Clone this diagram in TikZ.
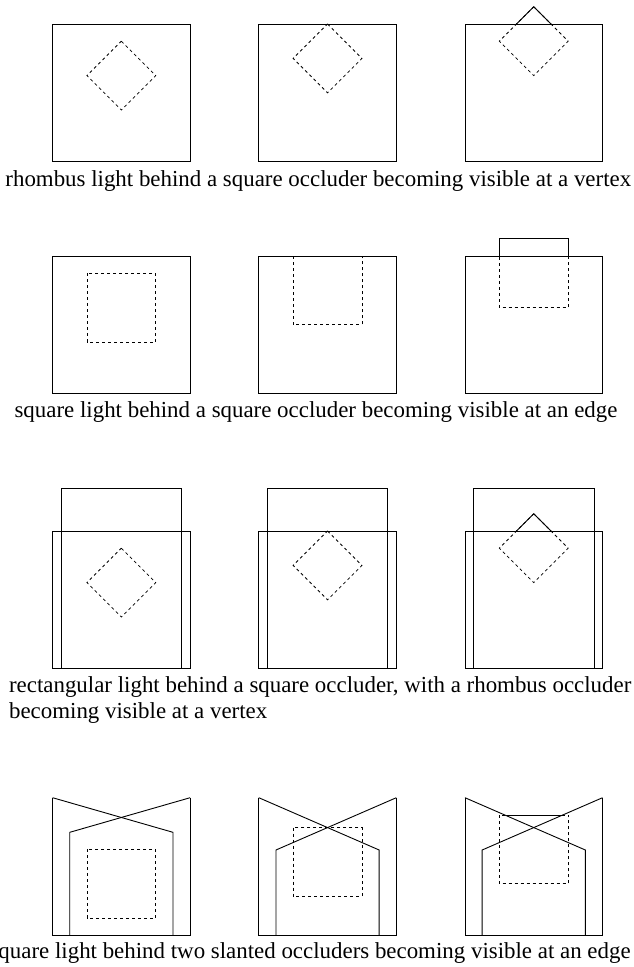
\documentclass[tikz,border=0pt]{standalone}
\usepackage{fontspec}
\setmainfont{Liberation Serif}
\begin{document}
\begin{tikzpicture}[x=1pt,y=-1pt,
  occl/.style={line width=0.9pt, black},
  hidden/.style={line width=0.8pt, black, dash pattern=on 3pt off 3pt},
  shown/.style={line width=0.9pt, black},
  captext/.style={font=\fontsize{22.9}{25.5}\selectfont, inner sep=0pt}]
\useasboundingbox (0,0) rectangle (634,967);
% ---------- Row 1 ----------
\begin{scope}[shift={(52.6,24)}]
  \draw[occl] (0,0) rectangle (137.5,137.5);
  \draw[hidden] (68.75,17.2) -- (103.15,51.6) -- (68.75,86) -- (34.35,51.6) -- cycle;
\end{scope}
\begin{scope}[shift={(258.8,24)}]
  \draw[occl] (0,0) rectangle (137.5,137.5);
  \draw[hidden] (68.75,0) -- (103.15,34.4) -- (68.75,68.8) -- (34.35,34.4) -- cycle;
\end{scope}
\begin{scope}[shift={(465,24)}]
  \draw[occl] (0,0) rectangle (137.5,137.5);
  \draw[hidden] (68.75,-17.2) -- (103.15,17.2) -- (68.75,51.6) -- (34.35,17.2) -- cycle;
  \begin{scope}
    \clip (-20,-60) rectangle (160,0);
    \draw[shown] (68.75,-17.2) -- (103.15,17.2) -- (68.75,51.6) -- (34.35,17.2) -- cycle;
  \end{scope}
\end{scope}
\node[captext, anchor=base] (cap1) at (318.3,186.7) {rhombus light behind a square occluder becoming visible at a vertex};
% ---------- Row 2 ----------
\begin{scope}[shift={(52.6,256)}]
  \draw[occl] (0,0) rectangle (137.5,137.5);
  \draw[hidden] (34.35,17.2) rectangle (103.15,86);
\end{scope}
\begin{scope}[shift={(258.8,256)}]
  \draw[occl] (0,0) rectangle (137.5,137.5);
  \draw[hidden] (34.35,0) rectangle (103.15,68.8);
\end{scope}
\begin{scope}[shift={(465,256)}]
  \draw[occl] (0,0) rectangle (137.5,137.5);
  \draw[hidden] (34.35,-17.2) rectangle (103.15,51.6);
  \begin{scope}
    \clip (-20,-60) rectangle (160,0);
    \draw[shown] (34.35,-17.2) rectangle (103.15,51.6);
  \end{scope}
\end{scope}
\node[captext, anchor=base] (cap2) at (316,417) {square light behind a square occluder becoming visible at an edge};
% ---------- Row 3 ----------
\begin{scope}[shift={(52.6,531)}]
  \draw[occl] (0,0) rectangle (137.5,137.5);
  \draw[occl] (8.45,-42.7) rectangle (129.05,137.5);
  \draw[hidden] (68.75,17.2) -- (103.15,51.6) -- (68.75,86) -- (34.35,51.6) -- cycle;
\end{scope}
\begin{scope}[shift={(258.8,531)}]
  \draw[occl] (0,0) rectangle (137.5,137.5);
  \draw[occl] (8.45,-42.7) rectangle (129.05,137.5);
  \draw[hidden] (68.75,0) -- (103.15,34.4) -- (68.75,68.8) -- (34.35,34.4) -- cycle;
\end{scope}
\begin{scope}[shift={(465,531)}]
  \draw[occl] (0,0) rectangle (137.5,137.5);
  \draw[occl] (8.45,-42.7) rectangle (129.05,137.5);
  \draw[hidden] (68.75,-17.2) -- (103.15,17.2) -- (68.75,51.6) -- (34.35,17.2) -- cycle;
  \begin{scope}
    \clip (-20,-60) rectangle (160,0);
    \draw[shown] (68.75,-17.2) -- (103.15,17.2) -- (68.75,51.6) -- (34.35,17.2) -- cycle;
  \end{scope}
\end{scope}
\node[captext, anchor=base west] (cap3a) at (8.9,692.7) {rectangular light behind a square occluder, with a rhombus occluder};
\node[captext, anchor=base west] (cap3b) at (8.9,718.3) {becoming visible at a vertex};
% ---------- Row 4 ----------
\begin{scope}[shift={(52.6,797.7)}]
  \draw[occl] (0,0) -- (0,137.5) -- (137.5,137.5) -- (137.5,0);
  \draw[occl] (0,0) -- (120.35,34.6) -- (120.35,137.5);
  \draw[occl] (137.5,0) -- (17.15,34.6) -- (17.15,137.5);
  \draw[hidden] (34.35,51.6) rectangle (103.15,120.4);
\end{scope}
\begin{scope}[shift={(258.8,797.7)}]
  \draw[occl] (0,0) -- (0,137.5) -- (137.5,137.5) -- (137.5,0);
  \draw[occl] (0,0) -- (120.35,52.3) -- (120.35,137.5);
  \draw[occl] (137.5,0) -- (17.15,52.3) -- (17.15,137.5);
  \draw[hidden] (34.35,29.9) rectangle (103.15,98.7);
\end{scope}
\begin{scope}[shift={(465,797.7)}]
  \draw[occl] (0,0) -- (0,137.5) -- (137.5,137.5) -- (137.5,0);
  \draw[occl] (0,0) -- (120.35,52.3) -- (120.35,137.5);
  \draw[occl] (137.5,0) -- (17.15,52.3) -- (17.15,137.5);
  \draw[hidden] (34.35,17.3) rectangle (103.15,86.1);
  \begin{scope}
    \clip (0,0) -- (68.75,29.88) -- (137.5,0) -- (137.5,-60) -- (0,-60) -- cycle;
    \draw[shown] (34.35,17.3) rectangle (103.15,86.1);
  \end{scope}
\end{scope}
\node[captext, anchor=base east] (cap4) at (630.8,958) {quare light behind two slanted occluders becoming visible at an edge};
\end{tikzpicture}
\end{document}
